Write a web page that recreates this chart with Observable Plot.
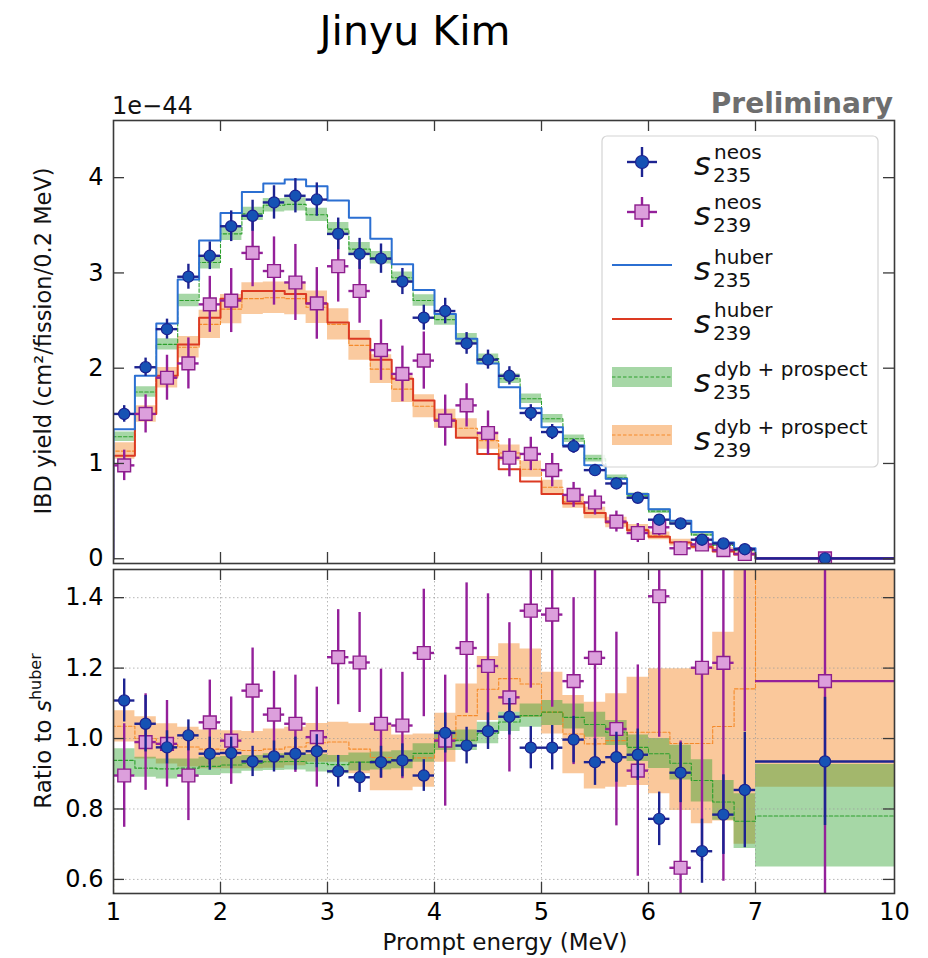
<!DOCTYPE html>
<html><head><meta charset="utf-8">
<script src="https://cdn.jsdelivr.net/npm/d3@7"></script>
<script src="https://cdn.jsdelivr.net/npm/@observablehq/plot@0.6"></script>
<style>
body{margin:0;background:#fff;}
#wrap{position:relative;width:928px;height:958px;overflow:hidden;background:#fff;}
#wrap > svg{position:absolute;left:0;}
</style></head><body><div id="wrap"></div>
<script>
// ---- bins ----
const edges = [1.0,1.2,1.4,1.6,1.8,2.0,2.2,2.4,2.6,2.8,3.0,3.2,3.4,3.6,3.8,4.0,4.2,4.4,4.6,4.8,5.0,5.2,5.4,5.6,5.8,6.0,6.2,6.4,6.6,6.8,7.0,10.0];
const centers = [1.1,1.3,1.5,1.7,1.9,2.1,2.3,2.5,2.7,2.9,3.1,3.3,3.5,3.7,3.9,4.1,4.3,4.5,4.7,4.9,5.1,5.3,5.5,5.7,5.9,6.1,6.3,6.5,6.7,6.9,8.5];
const xTickValues = [1,2,3,4,5,6,7,10];
const xInnerTicks = [2,3,4,5,6,7];
const yTicksTop = [0,1,2,3,4];
const yTicksRatio = [0.6,0.8,1.0,1.2,1.4];

// ---- top panel (units of 1e-44) ----
const neos235 = [1.52,2.01,2.41,2.96,3.18,3.49,3.60,3.74,3.81,3.77,3.41,3.20,3.15,2.91,2.53,2.60,2.26,2.09,1.92,1.53,1.33,1.18,0.93,0.79,0.64,0.41,0.37,0.20,0.16,0.10,0.004];
const neos235Err = [0.087,0.096,0.105,0.131,0.145,0.161,0.163,0.175,0.180,0.175,0.166,0.163,0.154,0.137,0.131,0.134,0.114,0.100,0.096,0.087,0.079,0.073,0.061,0.055,0.047,0.035,0.030,0.020,0.015,0.012,0.001];
const neos239 = [0.98,1.52,1.90,2.05,2.67,2.71,3.21,3.02,2.90,2.68,3.07,2.81,2.19,1.94,2.08,1.45,1.61,1.32,1.06,1.10,0.93,0.67,0.59,0.39,0.27,0.33,0.11,0.15,0.09,0.05,0.004];
const neos239Err = [0.16,0.20,0.236,0.268,0.294,0.336,0.355,0.358,0.399,0.376,0.376,0.338,0.318,0.292,0.30,0.268,0.227,0.231,0.20,0.175,0.175,0.131,0.131,0.11,0.10,0.09,0.07,0.06,0.045,0.03,0.003];
const huber235 = [1.36,1.92,2.47,2.93,3.34,3.63,3.85,3.94,3.98,3.91,3.76,3.58,3.36,3.09,2.82,2.57,2.31,2.05,1.80,1.58,1.38,1.19,0.98,0.84,0.68,0.52,0.40,0.28,0.17,0.11,0.003];
const huber239 = [1.08,1.52,1.92,2.25,2.53,2.73,2.81,2.81,2.78,2.68,2.48,2.31,2.09,1.89,1.66,1.45,1.27,1.10,0.94,0.81,0.68,0.58,0.48,0.38,0.30,0.23,0.17,0.125,0.075,0.045,0.002];
const dyb235 = [1.28,1.75,2.25,2.71,3.11,3.41,3.62,3.71,3.72,3.61,3.46,3.25,3.16,2.95,2.71,2.51,2.31,2.10,1.89,1.68,1.47,1.26,1.05,0.85,0.66,0.50,0.37,0.25,0.14,0.085,0.002];
const dyb235Err = [0.05,0.055,0.06,0.065,0.07,0.07,0.07,0.07,0.07,0.07,0.07,0.07,0.065,0.06,0.06,0.06,0.055,0.05,0.05,0.05,0.045,0.04,0.035,0.03,0.03,0.025,0.02,0.015,0.01,0.008,0.001];
const dyb239 = [1.13,1.52,1.90,2.22,2.46,2.62,2.73,2.74,2.73,2.64,2.46,2.24,1.99,1.78,1.60,1.47,1.37,1.24,1.11,0.94,0.75,0.60,0.48,0.38,0.31,0.24,0.17,0.13,0.09,0.05,0.004];
const dyb239Err = [0.087,0.087,0.108,0.114,0.149,0.154,0.166,0.166,0.17,0.17,0.165,0.157,0.15,0.14,0.12,0.10,0.10,0.09,0.085,0.085,0.075,0.07,0.06,0.055,0.05,0.04,0.035,0.03,0.025,0.02,0.002];

// ---- ratio panel ----
const ratio235 = [1.108,1.042,0.975,1.009,0.957,0.959,0.935,0.949,0.957,0.964,0.907,0.890,0.933,0.938,0.895,1.016,0.980,1.021,1.062,0.974,0.974,0.997,0.933,0.947,0.954,0.772,0.903,0.680,0.784,0.854,0.935];
const ratio235Err = [0.061,0.080,0.047,0.044,0.047,0.045,0.043,0.044,0.047,0.047,0.045,0.043,0.045,0.047,0.045,0.057,0.052,0.052,0.052,0.060,0.063,0.066,0.066,0.071,0.073,0.076,0.085,0.091,0.113,0.164,0.182];
const ratio239 = [0.895,0.990,0.985,0.895,1.046,0.994,1.136,1.068,1.042,1.004,1.231,1.216,1.042,1.037,1.243,0.994,1.257,1.206,1.117,1.363,1.352,1.163,1.229,1.027,0.909,1.404,0.633,1.201,1.215,1.650,1.163];
const ratio239Err = [0.147,0.137,0.123,0.128,0.120,0.124,0.121,0.123,0.138,0.142,0.135,0.142,0.155,0.151,0.181,0.186,0.185,0.205,0.212,0.220,0.263,0.237,0.250,0.275,0.300,0.400,0.360,0.550,0.620,0.630,0.700];
const ratioDyb235 = [0.938,0.916,0.914,0.916,0.921,0.925,0.930,0.934,0.935,0.930,0.926,0.933,0.936,0.940,0.958,0.994,0.995,1.015,1.047,1.065,1.075,1.060,1.040,1.018,0.975,0.957,0.930,0.881,0.820,0.765,0.780];
const ratioDyb235Lo = [0.895,0.890,0.885,0.890,0.895,0.900,0.907,0.909,0.911,0.905,0.900,0.908,0.911,0.914,0.933,0.966,0.966,0.985,1.020,1.032,1.037,1.027,1.004,0.980,0.935,0.915,0.882,0.820,0.768,0.688,0.635];
const ratioDyb235Hi = [0.971,0.947,0.942,0.942,0.947,0.949,0.952,0.957,0.959,0.955,0.952,0.959,0.962,0.965,0.985,1.023,1.024,1.046,1.075,1.098,1.108,1.098,1.075,1.051,1.010,1.000,0.981,0.940,0.881,0.843,0.926];
const ratioDyb239 = [1.035,1.000,0.983,0.976,0.970,0.968,0.966,0.970,0.976,0.988,0.990,0.970,0.946,0.940,0.945,1.000,1.065,1.140,1.170,1.155,1.075,1.013,0.985,0.994,1.018,1.018,0.986,0.986,1.034,1.141,1.700];
const ratioDyb239Lo = [0.990,0.942,0.928,0.919,0.914,0.914,0.914,0.916,0.923,0.933,0.933,0.900,0.852,0.852,0.862,0.933,0.990,1.051,1.075,1.060,1.013,0.900,0.857,0.862,0.867,0.843,0.796,0.758,0.766,0.700,0.862];
const ratioDyb239Hi = [1.079,1.062,1.042,1.032,1.024,1.022,1.020,1.027,1.032,1.043,1.046,1.042,1.042,1.010,1.013,1.072,1.155,1.233,1.269,1.254,1.188,1.122,1.103,1.127,1.174,1.198,1.198,1.198,1.302,1.600,2.600];

// ---- style ----
const col = {
  blueFill:"#1652b4", blueEdge:"#1b2190", blueBar:"#1d2391",
  pinkFill:"#dc9fdc", pinkEdge:"#8c1d8c", pinkBar:"#94209a",
  huber235:"#2b6fd2", huber239:"#dc3a22",
  green:"#2ca02c", orange:"#f58a2a", frame:"#3a3a3a"
};
const FONT = "DejaVu Sans, sans-serif";

// ---- helpers building tables from arrays ----
const pts = (vals, errs) => centers.map((c,i)=>({x:c, x1:edges[i], x2:edges[i+1], y:vals[i], e:errs[i]}));
const steps = (vals) => [{x:edges[0], y:0}, ...edges.map((e,i)=>({x:e, y:vals[Math.min(i,vals.length-1)]}))];
const band = (lo, hi) => edges.map((e,i)=>({x:e, y1:lo[Math.min(i,lo.length-1)], y2:hi[Math.min(i,hi.length-1)]}));
const sub = (a,b)=>a.map((v,i)=>v-b[i]);
const add = (a,b)=>a.map((v,i)=>v+b[i]);

function dataMarks(p235, p239) {
  return [
    Plot.ruleX(p239, {x:"x", y1:d=>d.y-d.e, y2:d=>d.y+d.e, stroke:col.pinkBar, strokeWidth:2.4, clip:true}),
    Plot.ruleY(p239, {y:"y", x1:"x1", x2:"x2", stroke:col.pinkBar, strokeWidth:2.4, clip:true}),
    Plot.dot(p239, {x:"x", y:"y", symbol:"square", r:7.2, fill:col.pinkFill, stroke:col.pinkEdge, strokeWidth:1.4, clip:true}),
    Plot.ruleX(p235, {x:"x", y1:d=>d.y-d.e, y2:d=>d.y+d.e, stroke:col.blueBar, strokeWidth:2.4, clip:true}),
    Plot.ruleY(p235, {y:"y", x1:"x1", x2:"x2", stroke:col.blueBar, strokeWidth:2.4, clip:true}),
    Plot.dot(p235, {x:"x", y:"y", symbol:"circle", r:5.6, fill:col.blueFill, stroke:col.blueEdge, strokeWidth:1.2, clip:true})
  ];
}
function frameTicks(yT, frameW, frameH) {
  const tk = {stroke:col.frame, strokeWidth:1.3};
  return [
    Plot.tickY(yT, {y:d=>d, insetRight:frameW-11, ...tk}),
    Plot.tickY(yT, {y:d=>d, insetLeft:frameW-11, ...tk}),
    Plot.tickX(xInnerTicks, {x:d=>d, insetBottom:frameH-11, ...tk}),
    Plot.tickX(xInnerTicks, {x:d=>d, insetTop:frameH-11, ...tk}),
    Plot.frame({stroke:col.frame, strokeWidth:1.6})
  ];
}
const xScale = {type:"linear", domain:[1,7,10], range:[113,755,894]};

// ---- top panel ----
const topPlot = Plot.plot({
  width:928, height:486, marginLeft:113, marginRight:34, marginTop:40, marginBottom:3,
  style:{fontFamily:FONT, background:"transparent", overflow:"visible"},
  x:{...xScale, axis:null},
  y:{domain:[-0.05,4.6]},
  marks:[
    Plot.areaY(band(sub(dyb239,dyb239Err), add(dyb239,dyb239Err)), {x:"x", y1:"y1", y2:"y2", curve:"step-after", fill:col.orange, fillOpacity:0.45, clip:true}),
    Plot.areaY(band(sub(dyb235,dyb235Err), add(dyb235,dyb235Err)), {x:"x", y1:"y1", y2:"y2", curve:"step-after", fill:col.green, fillOpacity:0.42, clip:true}),
    Plot.line(steps(dyb239), {x:"x", y:"y", curve:"step-after", stroke:col.orange, strokeWidth:1.1, strokeDasharray:"3.5,2", clip:true}),
    Plot.line(steps(dyb235), {x:"x", y:"y", curve:"step-after", stroke:col.green, strokeWidth:1.1, strokeDasharray:"3.5,2", clip:true}),
    Plot.line(steps(huber239), {x:"x", y:"y", curve:"step-after", stroke:col.huber239, strokeWidth:2, clip:true}),
    Plot.line(steps(huber235), {x:"x", y:"y", curve:"step-after", stroke:col.huber235, strokeWidth:2, clip:true}),
    ...dataMarks(pts(neos235, neos235Err), pts(neos239, neos239Err)),
    ...frameTicks(yTicksTop, 781, 443),
    Plot.axisY(yTicksTop, {tickSize:0, tickPadding:10, fontSize:24, label:null, tickFormat:d=>String(d)})
  ]
});

// ---- ratio panel ----
const botPlot = Plot.plot({
  width:928, height:392, marginLeft:113, marginRight:34, marginTop:3, marginBottom:65,
  style:{fontFamily:FONT, background:"transparent", overflow:"visible"},
  x:xScale,
  y:{domain:[0.56,1.48]},
  marks:[
    Plot.areaY(band(ratioDyb239Lo, ratioDyb239Hi), {x:"x", y1:"y1", y2:"y2", curve:"step-after", fill:col.orange, fillOpacity:0.47, clip:true}),
    Plot.areaY(band(ratioDyb235Lo, ratioDyb235Hi), {x:"x", y1:"y1", y2:"y2", curve:"step-after", fill:col.green, fillOpacity:0.42, clip:true}),
    Plot.gridX(xInnerTicks, {stroke:"#9a9a9a", strokeOpacity:0.8, strokeWidth:0.9, strokeDasharray:"1.5,2.5"}),
    Plot.gridY(yTicksRatio, {stroke:"#9a9a9a", strokeOpacity:0.8, strokeWidth:0.9, strokeDasharray:"1.5,2.5"}),
    Plot.line(steps(ratioDyb239), {x:"x", y:"y", curve:"step-after", stroke:col.orange, strokeWidth:1.1, strokeDasharray:"3.5,2", clip:true}),
    Plot.line(steps(ratioDyb235), {x:"x", y:"y", curve:"step-after", stroke:col.green, strokeWidth:1.1, strokeDasharray:"3.5,2", clip:true}),
    ...dataMarks(pts(ratio235, ratio235Err), pts(ratio239, ratio239Err)),
    ...frameTicks(yTicksRatio, 781, 324),
    Plot.axisY(yTicksRatio, {tickSize:0, tickPadding:10, fontSize:24, label:null, tickFormat:d3.format(".1f")}),
    Plot.axisX(xTickValues, {tickSize:0, tickPadding:9, fontSize:24, label:null, tickFormat:d=>String(d)})
  ]
});

const wrap = document.getElementById("wrap");
topPlot.style.top = "80px";
botPlot.style.top = "566px";
wrap.appendChild(topPlot);
wrap.appendChild(botPlot);

// ---- text overlay & legend ----
const ov = d3.select(wrap).append("svg")
  .attr("width",928).attr("height",958)
  .style("top","0px").style("pointer-events","none")
  .attr("font-family", FONT);

ov.append("text").attr("x",415).attr("y",45).attr("text-anchor","middle").attr("font-size",41).attr("fill","#000").text("Jinyu Kim");
ov.append("text").attr("x",112).attr("y",114).attr("font-size",24).attr("fill","#111").text("1e\u221244");
ov.append("text").attr("x",893).attr("y",113).attr("text-anchor","end").attr("font-size",28).attr("font-weight","bold").attr("fill","#6e6e6e").text("Preliminary");
ov.append("text").attr("x",505).attr("y",950).attr("text-anchor","middle").attr("font-size",23).attr("fill","#111").text("Prompt energy (MeV)");
ov.append("text").attr("transform","translate(51,341) rotate(-90)").attr("text-anchor","middle").attr("font-size",22.5).attr("fill","#111").text("IBD yield (cm\u00b2/fission/0.2 MeV)");
const rl = ov.append("text").attr("transform","translate(51,731) rotate(-90)").attr("text-anchor","middle").attr("font-size",23).attr("fill","#111");
rl.append("tspan").text("Ratio to ");
rl.append("tspan").attr("font-style","italic").text("s");
rl.append("tspan").attr("font-size",16).attr("dy",-10).text("huber");

// legend
const lg = ov.append("g");
lg.append("rect").attr("x",602).attr("y",136).attr("width",276).attr("height",331).attr("rx",5)
  .attr("fill","#fff").attr("fill-opacity",0.85).attr("stroke","#d4d4d4").attr("stroke-width",1.2);
// row 1: neos 235
lg.append("line").attr("x1",627).attr("x2",657).attr("y1",162).attr("y2",162).attr("stroke",col.blueBar).attr("stroke-width",2.4);
lg.append("line").attr("x1",642).attr("x2",642).attr("y1",147).attr("y2",177).attr("stroke",col.blueBar).attr("stroke-width",2.4);
lg.append("circle").attr("cx",642).attr("cy",162).attr("r",6.5).attr("fill",col.blueFill).attr("stroke",col.blueEdge).attr("stroke-width",1.2);
// row 2: neos 239
lg.append("line").attr("x1",627).attr("x2",657).attr("y1",212).attr("y2",212).attr("stroke",col.pinkBar).attr("stroke-width",2.4);
lg.append("line").attr("x1",642).attr("x2",642).attr("y1",197).attr("y2",227).attr("stroke",col.pinkBar).attr("stroke-width",2.4);
lg.append("rect").attr("x",635).attr("y",205).attr("width",14).attr("height",14).attr("fill",col.pinkFill).attr("stroke",col.pinkEdge).attr("stroke-width",1.4);
// rows 3-4: huber lines
lg.append("line").attr("x1",612).attr("x2",672).attr("y1",265).attr("y2",265).attr("stroke",col.huber235).attr("stroke-width",2.2);
lg.append("line").attr("x1",612).attr("x2",672).attr("y1",319).attr("y2",319).attr("stroke",col.huber239).attr("stroke-width",2.2);
// rows 5-6: bands
lg.append("rect").attr("x",612).attr("y",367).attr("width",60).attr("height",20).attr("fill",col.green).attr("fill-opacity",0.42);
lg.append("line").attr("x1",612).attr("x2",672).attr("y1",377).attr("y2",377).attr("stroke",col.green).attr("stroke-width",1.1).attr("stroke-dasharray","3.5,2");
lg.append("rect").attr("x",612).attr("y",425).attr("width",60).attr("height",20).attr("fill",col.orange).attr("fill-opacity",0.47);
lg.append("line").attr("x1",612).attr("x2",672).attr("y1",435).attr("y2",435).attr("stroke",col.orange).attr("stroke-width",1.1).attr("stroke-dasharray","3.5,2");

const legendRows = [
  {base:175, sup:"neos", sub:"235"},
  {base:225, sup:"neos", sub:"239"},
  {base:280, sup:"huber", sub:"235"},
  {base:333, sup:"huber", sub:"239"},
  {base:392, sup:"dyb + prospect", sub:"235"},
  {base:450, sup:"dyb + prospect", sub:"239"}
];
legendRows.forEach(r=>{
  lg.append("text").attr("x",694).attr("y",r.base).attr("font-size",32).attr("font-style","italic").attr("fill","#111").text("s");
  lg.append("text").attr("x",714).attr("y",r.base-16).attr("font-size",20).attr("fill","#111").text(r.sup);
  lg.append("text").attr("x",713).attr("y",r.base+7).attr("font-size",20).attr("fill","#111").text(r.sub);
});
</script>
</body></html>
